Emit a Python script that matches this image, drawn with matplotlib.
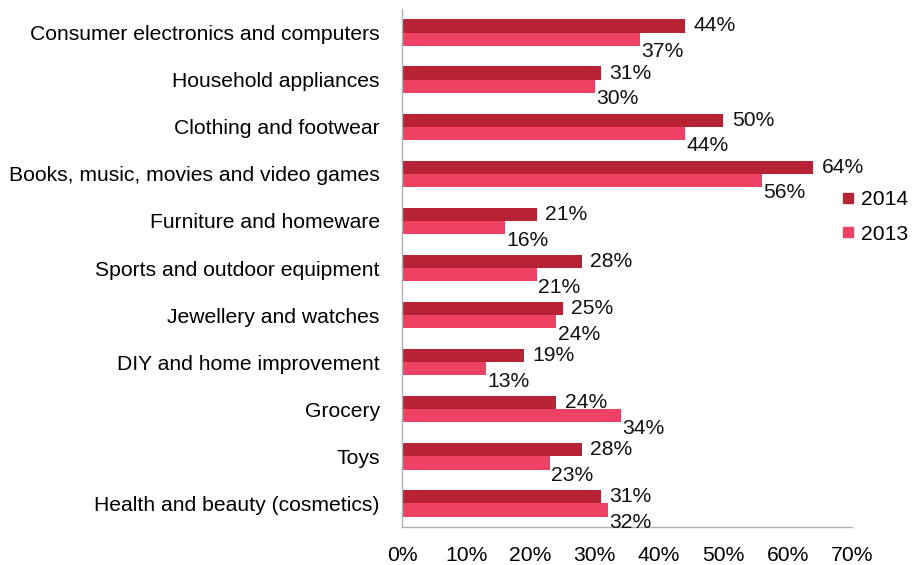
import numpy as np
import matplotlib.pyplot as plt
from matplotlib.lines import Line2D

categories = [
    "Consumer electronics and computers",
    "Household appliances",
    "Clothing and footwear",
    "Books, music, movies and video games",
    "Furniture and homeware",
    "Sports and outdoor equipment",
    "Jewellery and watches",
    "DIY and home improvement",
    "Grocery",
    "Toys",
    "Health and beauty (cosmetics)",
]
share_2014 = [44, 31, 50, 64, 21, 28, 25, 19, 24, 28, 31]
share_2013 = [37, 30, 44, 56, 16, 21, 24, 13, 34, 23, 32]
xticks = [0, 10, 20, 30, 40, 50, 60, 70]

c2014 = "#b72234"
c2013 = "#ef4163"

plt.rcParams["font.family"] = ["Liberation Sans", "DejaVu Sans"]
fs = 15.2

fig = plt.figure(figsize=(9.22, 5.65), dpi=100)
ax = fig.add_axes([402 / 922, 1 - 527 / 565, 450 / 922, 518 / 565])

y = np.arange(len(categories))
h = 0.28
ax.barh(y - h / 2, share_2014, height=h, color=c2014, label="2014")
ax.barh(y + h / 2, share_2013, height=h, color=c2013, label="2013")

for yi, v in zip(y, share_2014):
    ax.annotate(f"{v}%", (v, yi - h / 2), xytext=(6, 0), textcoords="offset points",
                va="center", ha="left", fontsize=fs, color="#111111")
for yi, v in zip(y, share_2013):
    ax.annotate(f"{v}%", (v, yi + h / 2), xytext=(1, -9), textcoords="offset points",
                va="center", ha="left", fontsize=fs, color="#111111")

ax.set_xlim(0, 70)
ax.set_ylim(len(categories) - 0.5, -0.5)
ax.set_yticks(y)
ax.set_yticklabels(categories, fontsize=fs)
ax.set_xticks(xticks)
ax.set_xticklabels([f"{t}%" for t in xticks], fontsize=fs)
ax.tick_params(axis="y", length=0, pad=16)
ax.tick_params(axis="x", length=0, pad=14)

for s in ("top", "right"):
    ax.spines[s].set_visible(False)
for s in ("left", "bottom"):
    ax.spines[s].set_color("#b0b0b0")
    ax.spines[s].set_linewidth(1.0)

handles = [
    Line2D([], [], marker="s", linestyle="none", color=c2014, markersize=7),
    Line2D([], [], marker="s", linestyle="none", color=c2013, markersize=7),
]
fig.legend(handles, ["2014", "2013"], loc="upper left", bbox_to_anchor=(842 / 922, 1 - 190 / 565),
           frameon=False, fontsize=fs, handlelength=0.6, handletextpad=0.3, labelspacing=0.75,
           borderaxespad=0, borderpad=0)

fig.savefig("out.png", dpi=100)
